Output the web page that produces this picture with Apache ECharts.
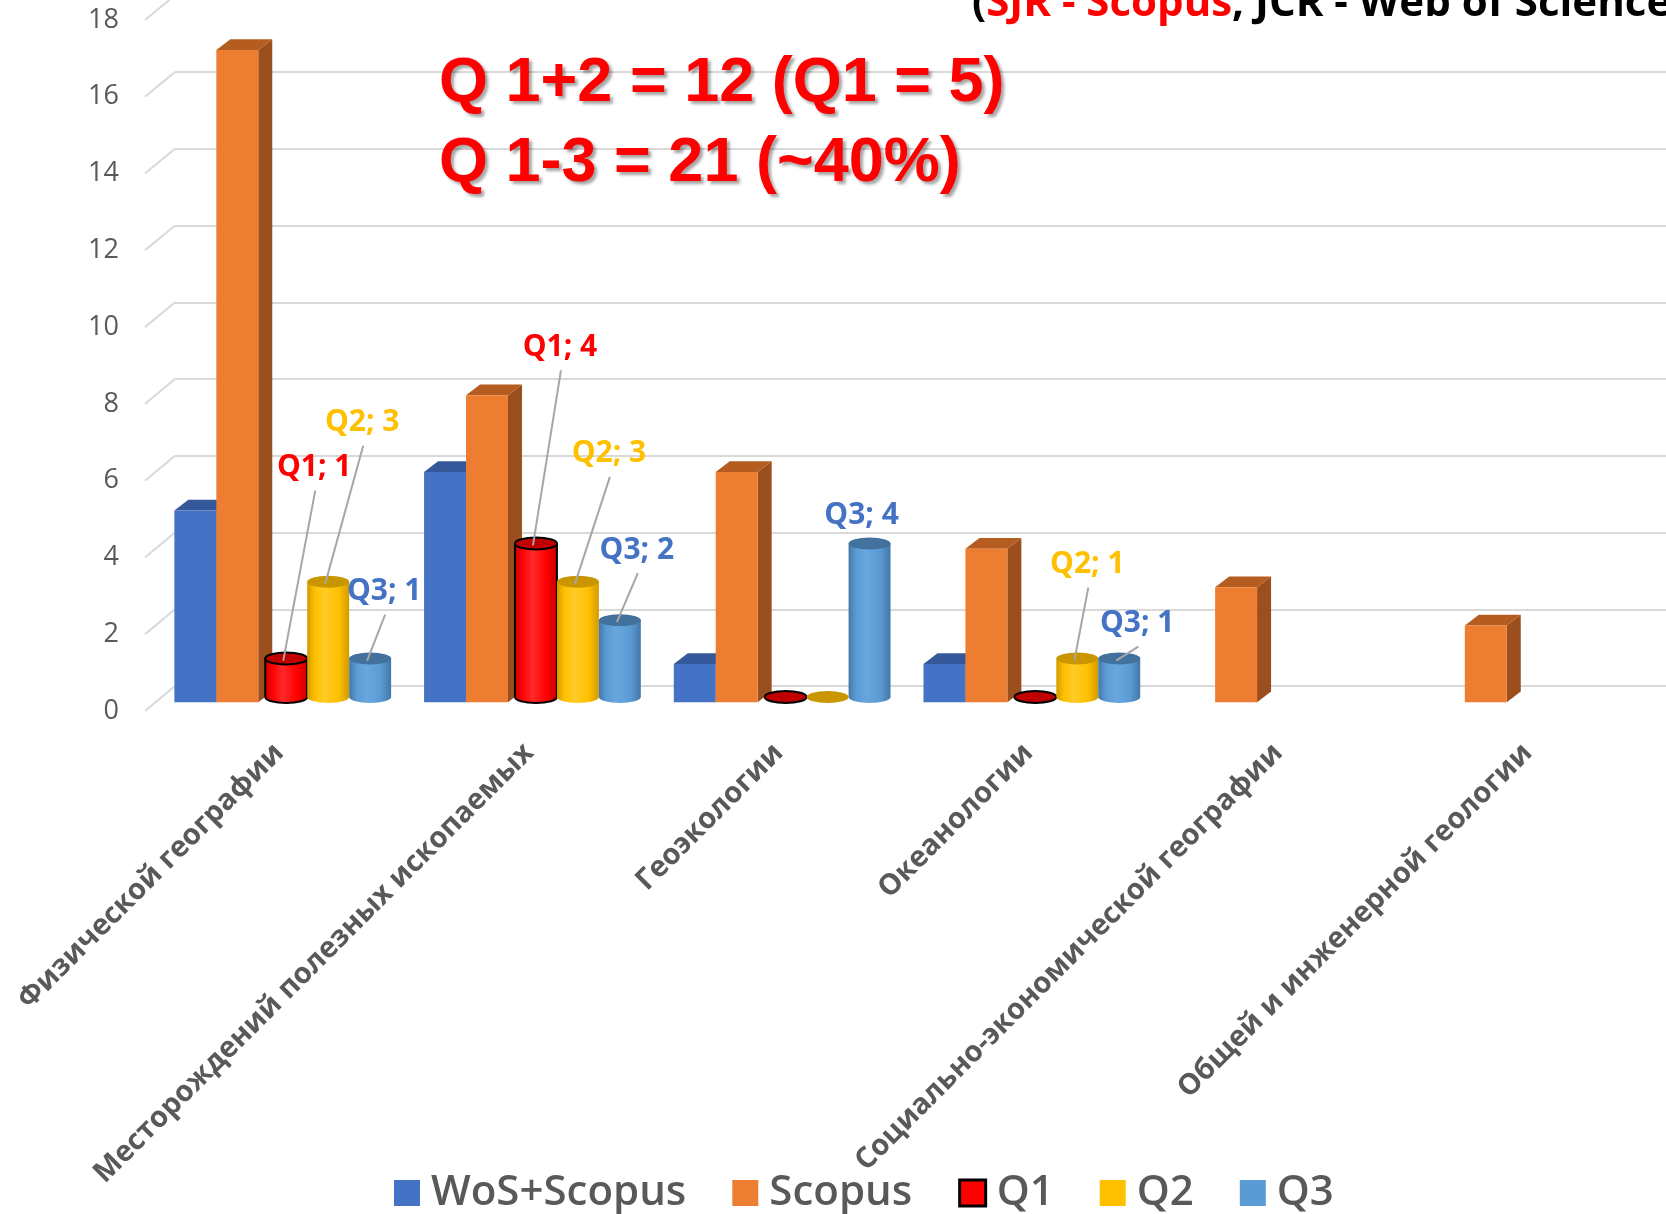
<!DOCTYPE html>
<html><head><meta charset="utf-8">
<script src="https://cdn.jsdelivr.net/npm/echarts@6/dist/echarts.min.js"></script>
<style>html,body{margin:0;padding:0;background:#fff}#c{width:1666px;height:1214px}</style>
</head><body><div id="c"></div>
<script>
// ---------- data ----------
const categories = ['Физической географии', 'Месторождений полезных ископаемых', 'Геоэкологии', 'Океанологии', 'Социально-экономической географии', 'Общей и инженерной геологии'];
const seriesNames = ['WoS+Scopus', 'Scopus', 'Q1', 'Q2', 'Q3'];
const wosScopus = [5, 6, 1, 1, null, null];
const scopus = [17, 8, 6, 4, 3, 2];
const q1 = [1, 4, 0, 0, null, null];
const q2 = [3, 3, 0, 1, null, null];
const q3 = [1, 2, 4, 1, null, null];
const yTicks = [0, 2, 4, 6, 8, 10, 12, 14, 16, 18];

// ---------- styling / label placement (not data) ----------
const SLOT = 0.168, DX = 14, DY = 10.7, RY = 6;
const styles = {
  'WoS+Scopus': { kind: 'box', front: '#4472C4', top: '#34589A', side: '#2F528F', label: '#4472C4' },
  'Scopus': { kind: 'box', front: '#ED7D31', top: '#B55D20', side: '#9C4F1E', label: '#ED7D31' },
  'Q1': { kind: 'cyl', body: '#FF0000', light: '#FF2A2A', edge: '#C00000', top: '#C00000', stroke: '#000000', label: '#FF0000' },
  'Q2': { kind: 'cyl', body: '#FFC000', light: '#FFCB26', edge: '#D29B00', top: '#C99600', label: '#FFC000' },
  'Q3': { kind: 'cyl', body: '#5B9BD5', light: '#68A6DD', edge: '#4577A8', top: '#41719C', label: '#4472C4' }
};
const labelPlacement = {
  'Q1': [[28, -191, true], [24, -196, true], null, null, null, null],
  'Q2': [[34, -159, true], [31, -128, true], null, [10, -94, true], null, null],
  'Q3': [[14, -67, true], [17, -70, true], [-8, -28, false], [18, -35, true], null, null]
};
const valuesBySeries = [wosScopus, scopus, q1, q2, q3];

function toData(arr) {
  const out = [];
  arr.forEach((v, i) => { if (v !== null && v !== undefined) out.push([i, v]); });
  return out;
}

function ellipsePath(cx, cy, rx, ry) {
  return 'M' + (cx - rx) + ',' + cy + ' A' + rx + ',' + ry + ' 0 1 0 ' + (cx + rx) + ',' + cy +
    ' A' + rx + ',' + ry + ' 0 1 0 ' + (cx - rx) + ',' + cy + ' Z';
}

function makeRender(slot, name) {
  const st = styles[name];
  return function (params, api) {
    const cat = api.value(0), v = api.value(1);
    const base = api.coord([cat, 0]);
    const topP = api.coord([cat, v]);
    const w = api.size([1, 0])[0] * SLOT;
    const x0 = base[0] + (slot - 2.5) * w;
    const x1 = x0 + w;
    const children = [];
    if (st.kind === 'box') {
      if (v <= 0) return null;
      const yb = base[1], yt = topP[1];
      children.push({ type: 'polygon', shape: { points: [[x1, yb], [x1, yt], [x1 + DX, yt - DY], [x1 + DX, yb - DY]] }, style: { fill: st.side } });
      children.push({ type: 'polygon', shape: { points: [[x0, yt], [x1, yt], [x1 + DX, yt - DY], [x0 + DX, yt - DY]] }, style: { fill: st.top } });
      children.push({ type: 'rect', shape: { x: x0, y: yt, width: w, height: yb - yt }, style: { fill: st.front } });
    } else {
      const cx = x0 + w / 2 + DX / 2;
      const rx = w / 2;
      const yb = base[1] - DY / 2, yt = topP[1] - DY / 2;
      const lw = st.stroke ? 2 : 0;
      if (v <= 0) {
        children.push({ type: 'path', shape: { pathData: ellipsePath(cx, yb, rx, RY) },
          style: { fill: st.top, stroke: st.stroke || null, lineWidth: lw } });
      } else {
        const grad = new echarts.graphic.LinearGradient(0, 0, 1, 0, [
          { offset: 0, color: st.edge }, { offset: 0.18, color: st.body }, { offset: 0.42, color: st.light },
          { offset: 0.75, color: st.body }, { offset: 1, color: st.edge }]);
        const body = 'M' + (cx - rx) + ',' + yt + ' L' + (cx - rx) + ',' + yb + ' A' + rx + ',' + RY + ' 0 0 0 ' + (cx + rx) + ',' + yb +
          ' L' + (cx + rx) + ',' + yt + ' Z';
        children.push({ type: 'path', shape: { pathData: body }, style: { fill: grad, stroke: st.stroke || null, lineWidth: lw } });
        children.push({ type: 'path', shape: { pathData: ellipsePath(cx, yt, rx, RY) },
          style: { fill: st.top, stroke: st.stroke || null, lineWidth: lw } });
      }
    }
    return { type: 'group', children: children };
  };
}

// label series data: [category, value, slot]
const labelData = [];
[2, 3, 4].forEach(slot => {
  valuesBySeries[slot].forEach((v, i) => {
    if (v !== null && v > 0 && labelPlacement[seriesNames[slot]][i]) labelData.push([i, v, slot]);
  });
});

function renderLabel(params, api) {
  const cat = api.value(0), v = api.value(1), slot = api.value(2);
  const name = seriesNames[slot];
  const pl = labelPlacement[name][cat];
  const base = api.coord([cat, 0]);
  const topP = api.coord([cat, v]);
  const w = api.size([1, 0])[0] * SLOT;
  const cx = base[0] + (slot - 2.5) * w + w / 2 + DX / 2;
  const cy = topP[1] - DY / 2;
  const lx = cx + pl[0], ly = cy + pl[1];
  const children = [];
  if (pl[2]) {
    children.push({ type: 'line', shape: { x1: lx + 1, y1: ly + 23, x2: cx - 3, y2: cy + 2 }, style: { stroke: '#A6A6A6', lineWidth: 2 } });
  }
  children.push({ type: 'text', x: lx, y: ly, style: { text: name + '; ' + v, fill: styles[name].label,
    font: 'bold 30px "Open Sans"', align: 'center', verticalAlign: 'middle' } });
  return { type: 'group', children: children };
}

const chart = echarts.init(document.getElementById('c'), null, { renderer: 'canvas' });

const series = seriesNames.map((name, slot) => ({
  type: 'custom', name: name, xAxisIndex: 0, yAxisIndex: 0, z: 3,
  itemStyle: { color: styles[name].front || styles[name].body },
  data: toData(valuesBySeries[slot]),
  encode: { x: 0, y: 1 },
  renderItem: makeRender(slot, name)
}));
series.push({ type: 'custom', name: 'labels', xAxisIndex: 0, yAxisIndex: 0, z: 10, data: labelData,
  encode: { x: 0, y: 1 }, renderItem: renderLabel, silent: true });

const option = {
  animation: false,
  backgroundColor: '#ffffff',
  grid: [
    { left: 154.4, right: 13.4, top: 11.6, bottom: 511.7, outerBoundsMode: 'none' },
    { left: 145, right: 13.4, top: 20, bottom: 503, outerBoundsMode: 'none' },
    { left: 175, right: 0, top: -4.7, bottom: 528, outerBoundsMode: 'none' }
  ],
  xAxis: [
    { type: 'category', gridIndex: 0, data: categories, axisLine: { show: false }, axisTick: { show: false },
      axisLabel: { interval: 0, rotate: 45, margin: 46, color: '#595959', fontSize: 29, fontWeight: 'bold', fontFamily: 'Open Sans' } },
    { type: 'category', gridIndex: 1, data: categories, show: false },
    { type: 'category', gridIndex: 2, data: categories, show: false }
  ],
  yAxis: [
    { type: 'value', gridIndex: 0, min: 0, max: 18, interval: 2, show: false },
    { type: 'value', gridIndex: 1, min: 0, max: 18, interval: 2, axisLine: { show: false }, axisTick: { show: false },
      splitLine: { show: false },
      axisLabel: { margin: 26, color: '#595959', fontSize: 27, fontFamily: 'Open Sans',
        formatter: v => (yTicks.indexOf(v) >= 0 ? String(v) : '') } },
    { type: 'value', gridIndex: 2, min: 0, max: 18, interval: 2, axisLine: { show: false }, axisTick: { show: false },
      axisLabel: { show: false }, splitLine: { show: true, lineStyle: { color: '#D9D9D9', width: 2 } } }
  ],
  legend: {
    left: 389, top: 1166, itemWidth: 26, itemHeight: 26, itemGap: 46, icon: 'rect',
    textStyle: { fontSize: 42, lineHeight: 44, color: '#595959', fontFamily: 'Open Sans', fontWeight: 600, padding: [0, 0, 0, 6] },
    data: seriesNames.map(n => ({ name: n, itemStyle: n === 'Q1' ? { color: '#FF0000', borderColor: '#000', borderWidth: 3 } : { color: styles[n].front || styles[n].body } }))
  },
  series: series
};
chart.setOption(option);

// back-wall diagonal connectors and annotation texts
const graphics = yTicks.map(v => {
  const f = chart.convertToPixel({ yAxisIndex: 1 }, v);
  const b = chart.convertToPixel({ yAxisIndex: 2 }, v);
  return { type: 'line', silent: true, shape: { x1: 145, y1: f, x2: 175, y2: b }, style: { stroke: '#D9D9D9', lineWidth: 2 }, z: 1 };
});
graphics.push({ type: 'text', left: 439, top: 52, z: 20, style: { text: 'Q 1+2 = 12 (Q1 = 5)', fill: '#FF0000',
  font: 'bold 63px "Liberation Sans", Arial, sans-serif', textShadowColor: 'rgba(0,0,0,0.35)', textShadowBlur: 3, textShadowOffsetX: 3, textShadowOffsetY: 3 } });
graphics.push({ type: 'text', left: 439, top: 132, z: 20, style: { text: 'Q 1-3 = 21 (~40%)', fill: '#FF0000',
  font: 'bold 63px "Liberation Sans", Arial, sans-serif', textShadowColor: 'rgba(0,0,0,0.35)', textShadowBlur: 3, textShadowOffsetX: 3, textShadowOffsetY: 3 } });
graphics.push({ type: 'text', x: 972, y: -17, z: 20, style: {
  text: '{b|(}{r|SJR - Scopus}{b|, JCR - Web of Science)}',
  rich: { b: { fill: '#000000', font: 'bold 42px "Open Sans"' }, r: { fill: '#FF0000', font: 'bold 42px "Open Sans"' } } } });
chart.setOption({ graphic: graphics });
</script></body></html>
